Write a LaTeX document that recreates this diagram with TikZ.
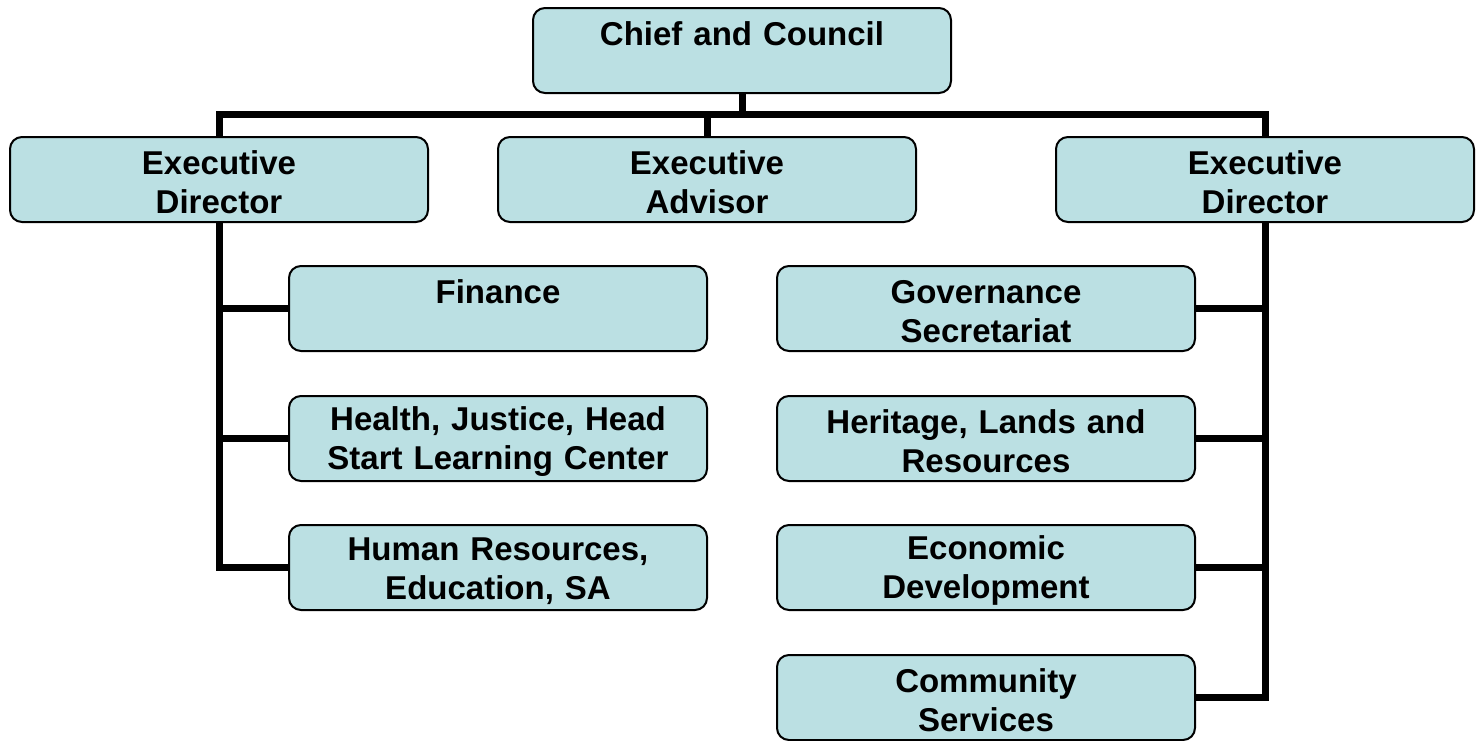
\documentclass[tikz,border=0pt]{standalone}
\usepackage{fontspec}
\setmainfont{Liberation Sans}
\definecolor{boxfill}{HTML}{BBE0E3}
\tikzset{
  unit/.style={draw, line width=2pt, rounded corners=12pt, fill=boxfill,
    minimum width=418pt, minimum height=85pt, text width=400pt, align=center,
    font=\fontsize{33}{39}\selectfont\bfseries, inner sep=0pt,
    execute at begin node={\rule{0pt}{30pt}}},
  link/.style={line width=7pt}
}
\begin{document}
\begin{tikzpicture}[x=1pt, y=-1pt]
\useasboundingbox (0,0) rectangle (1483,740);

\node[unit] (chief) at (742, 50.5) {Chief and Council\\[-10pt]\strut};
\node[unit] (edl) at (219, 179.5) {Executive\\Director};
\node[unit] (ea) at (707, 179.5) {Executive\\Advisor};
\node[unit] (edr) at (1265, 179.5) {Executive\\Director};

\node[unit] (fin) at (498, 308.5) {Finance\\[-10pt]\strut};
\node[unit] (hea) at (498, 438.5) {Health, Justice, Head\\Start Learning Center};
\node[unit] (hr) at (498, 567.5) {Human Resources,\\Education, SA};

\node[unit] (gov) at (986, 308.5) {Governance\\Secretariat};
\node[unit] (her) at (986, 438.5) {Heritage, Lands and\\Resources};
\node[unit] (eco) at (986, 567.5) {Economic\\Development};
\node[unit] (com) at (986, 697.5) {Community\\Services};

\coordinate (bus) at (742, 114);

% top level
\draw[link] (chief.south) -- (chief.south |- bus);
\draw[link] (edl.north) |- (edr.north |- bus) -- (edr.north);
\draw[link] (ea.north) -- (ea.north |- bus);

% left branch
\draw[link] (edl.south) |- (hr.west);
\draw[link] (edl.south |- fin.west) -- (fin.west);
\draw[link] (edl.south |- hea.west) -- (hea.west);

% right branch
\draw[link] (edr.south) |- (com.east);
\draw[link] (edr.south |- gov.east) -- (gov.east);
\draw[link] (edr.south |- her.east) -- (her.east);
\draw[link] (edr.south |- eco.east) -- (eco.east);
\end{tikzpicture}
\end{document}
